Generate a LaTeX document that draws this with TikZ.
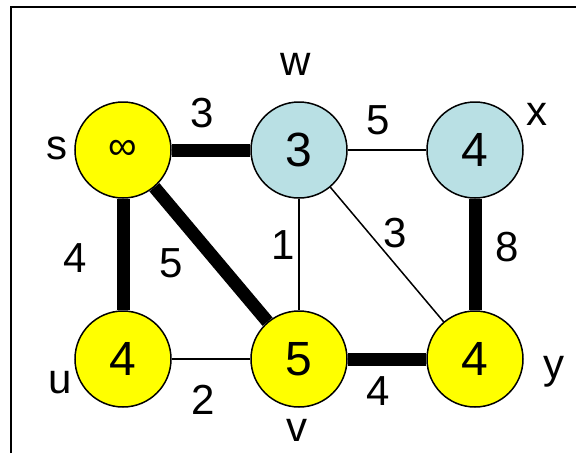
\documentclass[tikz,border=0pt]{standalone}
\usepackage{fontspec}
\setmainfont{Liberation Sans}
\definecolor{vyel}{RGB}{255,255,0}
\definecolor{vblue}{RGB}{185,224,228}
\begin{document}
\begin{tikzpicture}[x=1pt,y=-1pt,
  vert/.style={circle,draw=black,line width=1.5pt,minimum size=96pt,inner sep=0pt,font=\fontsize{48}{48}\selectfont},
  yv/.style={vert,fill=vyel},
  bv/.style={vert,fill=vblue},
  lbl/.style={inner sep=0pt,font=\fontsize{42}{42}\selectfont},
  thickedge/.style={line width=13pt,line cap=butt},
  thinedge/.style={line width=1.5pt}]
\useasboundingbox (0,0) rectangle (576,453);
\draw[line width=2pt] (11,453) coordinate (bl) -- (11,7) coordinate (tl) -- (576,7) coordinate (tr);
% vertices
\node[yv] (s) at (123,150) {\fontsize{40}{40}\selectfont ∞};
\node[bv] (w) at (299,150) {3};
\node[bv] (x) at (475,150) {4};
\node[yv] (u) at (123,359) {4};
\node[yv] (v) at (299,359) {5};
\node[yv] (y) at (475,359) {4};
% edges
\draw[thickedge] (s) -- (w);
\draw[thickedge] (s) -- (u);
\draw[thickedge] (s) -- (v);
\draw[thickedge] (x) -- (y);
\draw[thickedge] (v) -- (y);
\draw[thinedge] (w) -- (x);
\draw[thinedge] (w) -- (v);
\draw[thinedge] (w) -- (y);
\draw[thinedge] (u) -- (v);
% vertex names
\node[lbl] (ls) at (57,148) {s};
\node[lbl] (lw) at (296,64) {w};
\node[lbl] (lx) at (537,114) {x};
\node[lbl] (lu) at (60,383) {u};
\node[lbl] (lv) at (297,430) {v};
\node[lbl] (ly) at (554,372) {y};
% weights
\node[lbl] (e1) at (202,113) {3};
\node[lbl] (e2) at (378,120) {5};
\node[lbl] (e3) at (75,258) {4};
\node[lbl] (e4) at (171,263) {5};
\node[lbl] (e5) at (283,245) {1};
\node[lbl] (e6) at (395,233) {3};
\node[lbl] (e7) at (507,247) {8};
\node[lbl] (e8) at (203,400) {2};
\node[lbl] (e9) at (378,391) {4};
\end{tikzpicture}
\end{document}
